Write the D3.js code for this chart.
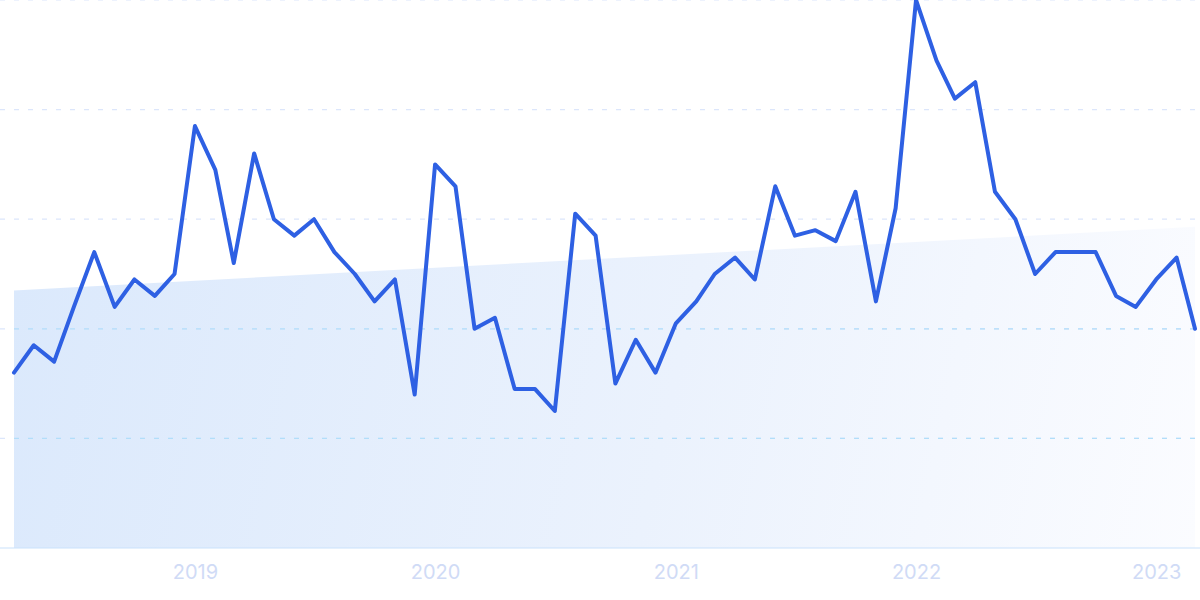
<!DOCTYPE html>
<html>
<head>
<meta charset="utf-8">
<script src="https://cdn.jsdelivr.net/npm/d3@7"></script>
<style>
  html, body { margin: 0; padding: 0; background: #ffffff; }
  svg { display: block; }
</style>
</head>
<body>
<svg id="chart" width="1200" height="600"></svg>
<script>
// ---- data ----
const months = [
  "2018-04","2018-05","2018-06","2018-07","2018-08","2018-09","2018-10","2018-11","2018-12",
  "2019-01","2019-02","2019-03","2019-04","2019-05","2019-06","2019-07","2019-08","2019-09","2019-10","2019-11","2019-12",
  "2020-01","2020-02","2020-03","2020-04","2020-05","2020-06","2020-07","2020-08","2020-09","2020-10","2020-11","2020-12",
  "2021-01","2021-02","2021-03","2021-04","2021-05","2021-06","2021-07","2021-08","2021-09","2021-10","2021-11","2021-12",
  "2022-01","2022-02","2022-03","2022-04","2022-05","2022-06","2022-07","2022-08","2022-09","2022-10","2022-11","2022-12",
  "2023-01","2023-02","2023-03"
];
const values = [
  32,37,34,44,54,44,49,46,50,
  77,69,52,72,60,57,60,54,50,45,49,28,
  70,66,40,42,29,29,25,61,57,30,38,32,
  41,45,50,53,49,66,57,58,56,65,45,62,
  100,89,82,85,65,60,50,54,54,54,46,44,
  49,53,40
];
const trendValues = [47, 58.6];          // linear trend: first month, last month
const gridValues = [20, 40, 60, 80, 100];
const tickLabels = ["2019", "2020", "2021", "2022", "2023"];

// ---- setup ----
const W = 1200, H = 600;
const parse = d3.timeParse("%Y-%m");
const dates = months.map(parse);
const data = dates.map((d, i) => ({ date: d, value: values[i] }));

const svg = d3.select("#chart");
const x = d3.scaleTime().domain(d3.extent(dates)).range([14, 1195]);
const y = d3.scaleLinear().domain([0, 100]).range([548, 0]);

const defs = svg.append("defs");
const grad = defs.append("linearGradient")
  .attr("id", "trendFill")
  .attr("gradientUnits", "userSpaceOnUse")
  .attr("x1", x(dates[0])).attr("y1", y(trendValues[0]))
  .attr("x2", x(dates[dates.length - 1])).attr("y2", y(0));
grad.append("stop").attr("offset", "0%").attr("stop-color", "#dbe9fc");
grad.append("stop").attr("offset", "55%").attr("stop-color", "#ebf2fd");
grad.append("stop").attr("offset", "100%").attr("stop-color", "#fbfcff");

const trendData = [
  { date: dates[0], value: trendValues[0] },
  { date: dates[dates.length - 1], value: trendValues[1] }
];
const trendArea = d3.area()
  .x(d => x(d.date))
  .y0(y(0))
  .y1(d => y(d.value));

defs.append("clipPath").attr("id", "trendClip")
  .append("path").attr("d", trendArea(trendData));

// trend area
svg.append("path")
  .attr("d", trendArea(trendData))
  .attr("fill", "url(#trendFill)");

// gridlines (outside fill)
svg.append("g").selectAll("line")
  .data(gridValues).join("line")
  .attr("x1", 0).attr("x2", W)
  .attr("y1", d => y(d)).attr("y2", d => y(d))
  .attr("stroke", "#dce6fb")
  .attr("stroke-width", 1.2)
  .attr("stroke-dasharray", "5 9");

// gridlines (inside fill, cyan tint)
svg.append("g").attr("clip-path", "url(#trendClip)").selectAll("line")
  .data(gridValues).join("line")
  .attr("x1", 0).attr("x2", W)
  .attr("y1", d => y(d)).attr("y2", d => y(d))
  .attr("stroke", "#b2defa")
  .attr("stroke-width", 1.2)
  .attr("stroke-dasharray", "5 9");

// baseline axis
svg.append("line")
  .attr("x1", 0).attr("x2", W)
  .attr("y1", y(0)).attr("y2", y(0))
  .attr("stroke", "#c9e2fb")
  .attr("stroke-width", 1.2);

// x axis labels
const tickDates = tickLabels.map(t => d3.timeParse("%Y")(t));
const xAxis = d3.axisBottom(x)
  .tickValues(tickDates)
  .tickFormat(d3.timeFormat("%Y"))
  .tickSize(0)
  .tickPadding(17);
const ax = svg.append("g")
  .attr("transform", `translate(0,${y(0)})`)
  .call(xAxis);
ax.select(".domain").remove();
ax.selectAll("text")
  .attr("fill", "#d0dbf6")
  .attr("font-family", "Inter, 'Helvetica Neue', Arial, sans-serif")
  .attr("font-size", 20);

// data line
const line = d3.line()
  .x(d => x(d.date))
  .y(d => y(d.value));
svg.append("path")
  .datum(data)
  .attr("d", line)
  .attr("fill", "none")
  .attr("stroke", "#2e60e3")
  .attr("stroke-width", 4)
  .attr("stroke-linejoin", "round")
  .attr("stroke-linecap", "round");
</script>
</body>
</html>
